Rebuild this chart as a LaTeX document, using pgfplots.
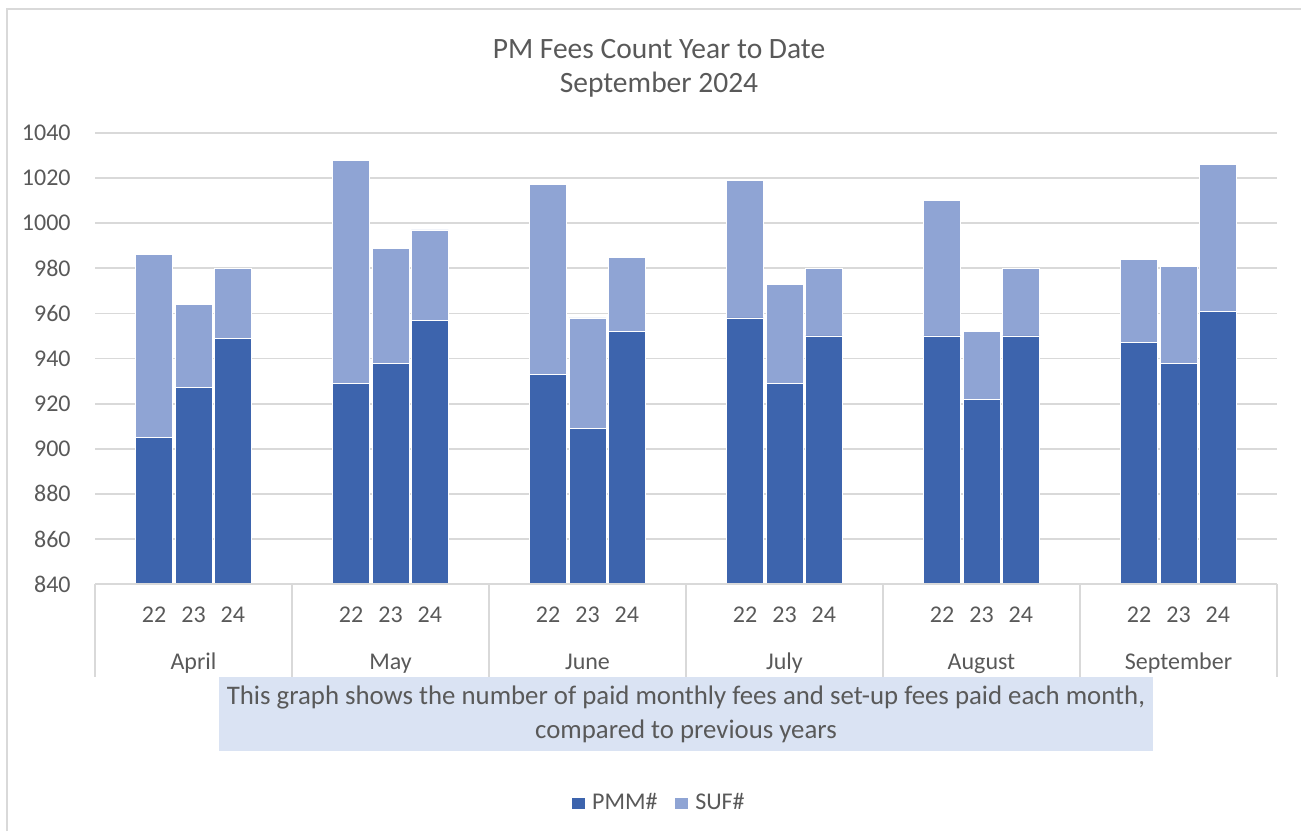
\documentclass[border=0pt]{standalone}
\usepackage{fontspec}
\setmainfont{Carlito}
\usepackage{pgfplots}
\pgfplotsset{compat=1.18}
\definecolor{pmm}{RGB}{61,100,173}
\definecolor{suf}{RGB}{143,164,212}
\definecolor{txt}{RGB}{89,89,89}
\definecolor{grd}{RGB}{217,217,217}
\definecolor{capbg}{RGB}{218,227,243}

\pgfplotstableread{
x   pmm  suf
1   905  81
2   927  37
3   949  31
6   929  99
7   938  51
8   957  40
11  933  84
12  909  49
13  952  33
16  958  61
17  929  44
18  950  30
21  950  60
22  922  30
23  950  30
26  947  37
27  938  43
28  961  65
}\feesdata

\begin{document}
\begin{tikzpicture}[x=1pt,y=1pt]
\useasboundingbox (0,0) rectangle (650.5,-415.5);
% outer chart border
\draw[grd, line width=1pt] (3.5,-415.5) -- (3.5,-4.5) -- (650.5,-4.5);
% title
\node[txt, font=\fontsize{14.75}{17}\selectfont, anchor=base, inner sep=0pt] at (329.5,-29) {PM Fees Count Year to Date};
\node[txt, font=\fontsize{14.75}{17}\selectfont, anchor=base, inner sep=0pt] at (329.5,-46) {September 2024};
% caption box
\fill[capbg] (109.5,-338.5) rectangle (576.5,-375.5);
\node[txt, font=\fontsize{13.4}{16}\selectfont, anchor=base, inner sep=0pt] at (343,-352) {This graph shows the number of paid monthly fees and set-up fees paid each month,};
\node[txt, font=\fontsize{13.4}{16}\selectfont, anchor=base, inner sep=0pt] at (343,-369) {compared to previous years};

\begin{axis}[
  at={(47.5pt,-292pt)}, anchor=south west,
  scale only axis, width=591pt, height=225.5pt,
  xmin=-0.5, xmax=29.5, ymin=840, ymax=1040,
  ytick={840,860,...,1040},
  ymajorgrids, grid style={grd, line width=0.9pt},
  axis line style={draw=none},
  major tick length=0pt,
  xtick={1,2,3,6,7,8,11,12,13,16,17,18,21,22,23,26,27,28},
  xticklabels={22,23,24,22,23,24,22,23,24,22,23,24,22,23,24,22,23,24},
  extra x ticks={2,7,12,17,22,27},
  extra x tick labels={April,May,June,July,August,September},
  extra x tick style={grid=none, xticklabel style={yshift=-23.5pt}},
  xticklabel style={anchor=base, inner sep=0pt, yshift=-19pt},
  yticklabel style={anchor=east, inner sep=0pt, xshift=-12pt},
  tick label style={text=txt, font=\fontsize{12}{14}\selectfont},
  /pgf/number format/assume math mode=true,
  /pgf/number format/1000 sep={},
  ybar stacked, bar width=18.5pt,
  legend columns=2,
  legend style={at={(0.478,-0.4856)}, anchor=center, draw=none, fill=none,
    font=\fontsize{12}{14}\selectfont, text=txt,
    /tikz/every odd column/.append style={column sep=1pt},
    /tikz/every even column/.append style={column sep=6.5pt}},
  legend image code/.code={\fill[#1] (0pt,-3pt) rectangle (7pt,3pt);},
]
\addplot[fill=pmm, draw=white, line width=0.4pt] table[x=x, y=pmm] {\feesdata};
\addplot[fill=suf, draw=white, line width=0.4pt] table[x=x, y=suf] {\feesdata};
\legend{PMM\#, SUF\#}
\end{axis}
% category axis line and separators
\draw[grd, line width=0.9pt] (47.5,-292) -- (638.5,-292);
\foreach \i in {0,...,6} {
  \draw[grd, line width=0.6pt] (47.5+98.5*\i,-292) -- (47.5+98.5*\i,-338.5);
}
\end{tikzpicture}
\end{document}
